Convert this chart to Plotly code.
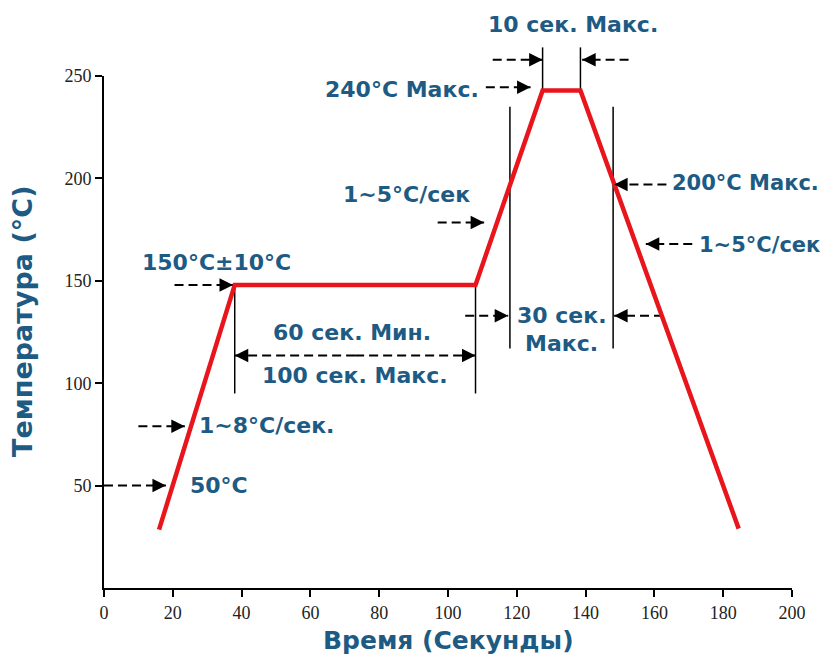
import plotly.graph_objects as go

# ---- data ----
profile_time = [16, 38, 108, 127.5, 138.5, 184.5]
profile_temp = [28.5, 148, 148, 243, 243, 29]

# vertical guide lines (x, y_bottom, y_top)
guide_x = [38, 108, 118, 148, 127.5, 138.5]
guide_y0 = [95, 95, 117, 117, 243, 243]
guide_y1 = [148, 148, 235, 235, 264, 264]

# dashed arrows (tail x, tip x, y)
arrow_tail = [0, 10, 20.5, 73, 73, 97, 105, 162.5, 163.5, 171, 111, 113, 152.5]
arrow_tip = [18, 23.5, 37.5, 38, 108, 110.5, 117.5, 148.3, 148.3, 157.5, 124, 127.5, 139]
arrow_y = [50, 79, 148, 113.5, 113.5, 178.5, 133, 133, 197, 168, 244.5, 258, 258]

# text labels
label_text = ["10 сек. Макс.", "240°C Макс.", "1~5°C/сек", "150°C±10°C",
              "60 сек. Мин.", "100 сек. Макс.", "1~8°C/сек.", "50°C",
              "30 сек.", "Макс.", "200°C Макс.", "1~5°C/сек"]
label_x = [136.3, 109.5, 87.8, 32.8, 72.1, 73.0, 27.0, 24.4, 133.1, 133.1, 164.5, 172.4]
label_y = [275, 243.5, 192.3, 159, 125, 104, 79.2, 50, 133.3, 119.3, 197.6, 167.6]
label_anchor = ["center", "right", "center", "center", "center", "center", "left",
                "left", "center", "center", "left", "left"]
label_size = [22, 22, 22, 22, 22, 22, 22, 22, 22, 22, 21, 21]

x_ticks = [0, 20, 40, 60, 80, 100, 120, 140, 160, 180, 200]
y_ticks = [50, 100, 150, 200, 250]
x_title = "Время (Секунды)"
y_title = "Температура (°C)"

X_MAX, Y_MAX = 200, 250

TEXT_COLOR = "#1d5b84"
RED = "#e8161c"

# layout geometry (page body has an 8px margin)
M_L, M_T, M_B = 96, 5, 79
W, H = 828, 659
PLOT_H = 521                      # height of the visible axis frame
FULL_H = H - M_T - M_B            # full drawing height
DOMAIN_TOP = PLOT_H / FULL_H
Y3_MAX = Y_MAX / DOMAIN_TOP       # hidden axis that reaches above the frame
HEAD_PX = 14                      # arrowhead length in px

fig = go.Figure()

# guide lines
gx, gy = [], []
for x, a, b in zip(guide_x, guide_y0, guide_y1):
    gx += [x, x, None]
    gy += [a, b, None]
fig.add_trace(go.Scatter(x=gx, y=gy, yaxis="y3", mode="lines",
                         line=dict(color="black", width=1.5),
                         hoverinfo="skip", showlegend=False))

# dashed arrow shafts
ax_, ay_ = [], []
for t, p, y in zip(arrow_tail, arrow_tip, arrow_y):
    ax_ += [t, p, None]
    ay_ += [y, y, None]
fig.add_trace(go.Scatter(
    x=ax_, y=ay_, yaxis="y3", mode="lines",
    line=dict(color="black", width=2, dash="9px,5px"),
    hoverinfo="skip", showlegend=False))

# profile
fig.add_trace(go.Scatter(x=profile_time, y=profile_temp, yaxis="y3", mode="lines",
                         line=dict(color=RED, width=4.5), showlegend=False))

# invisible helper traces so that all axes are drawn
fig.add_trace(go.Scatter(x=[0], y=[0], mode="markers", marker=dict(opacity=0),
                         showlegend=False, hoverinfo="skip"))
fig.add_trace(go.Scatter(x=[0], y=[0], xaxis="x2", yaxis="y2", mode="markers",
                         marker=dict(opacity=0), showlegend=False, hoverinfo="skip"))

# arrowheads (filled triangles)
for t, p, y in zip(arrow_tail, arrow_tip, arrow_y):
    direction = 1 if p > t else -1
    fig.add_annotation(x=p, y=y, xref="x", yref="y3", text="", showarrow=True,
                       ax=-direction * HEAD_PX, ay=0, arrowhead=2, arrowsize=1.35,
                       arrowwidth=2, arrowcolor="black", standoff=0)

for t, x, y, a, s in zip(label_text, label_x, label_y, label_anchor, label_size):
    fig.add_annotation(x=x, y=y, xref="x", yref="y3", text=t, showarrow=False,
                       xanchor=a, yanchor="middle",
                       font=dict(family="DejaVu Sans", size=s, color=TEXT_COLOR,
                                 weight="bold"))

fig.add_annotation(x=0.5, y=0, xref="paper", yref="paper", text=x_title,
                   showarrow=False, xanchor="center", yanchor="middle", yshift=-52,
                   font=dict(family="DejaVu Sans", size=25, color=TEXT_COLOR, weight="bold"))
fig.add_annotation(x=0, y=DOMAIN_TOP / 2, xref="paper", yref="paper", text=y_title,
                   showarrow=False, xanchor="center", yanchor="middle", xshift=-82,
                   yshift=11, textangle=-90,
                   font=dict(family="DejaVu Sans", size=27, color=TEXT_COLOR, weight="bold"))

tick_font = dict(family="Liberation Serif", size=18, color="#222")
fig.update_layout(
    width=W, height=H, autosize=False,
    margin=dict(l=M_L, r=W - M_L - 688, t=M_T, b=M_B),
    plot_bgcolor="white", paper_bgcolor="white",
    xaxis=dict(range=[0, X_MAX], tickvals=x_ticks, ticktext=[str(v) for v in x_ticks],
               showgrid=False, zeroline=False, showline=True, linecolor="black",
               linewidth=2, ticks="outside", ticklen=7, tickwidth=1.5, tickcolor="black",
               tickfont=tick_font, fixedrange=True, anchor="y"),
    yaxis=dict(range=[0, Y_MAX], domain=[0, DOMAIN_TOP], tickvals=y_ticks,
               ticktext=[str(v) for v in y_ticks],
               showgrid=False, zeroline=False, showline=True, linecolor="black",
               linewidth=2, ticks="outside", ticklen=7, tickwidth=1.5, tickcolor="black",
               tickfont=tick_font, fixedrange=True, anchor="x"),
    xaxis2=dict(range=[0, X_MAX], overlaying="x", tickvals=x_ticks, showticklabels=False,
                ticks="inside", ticklen=6, tickwidth=1.5, tickcolor="black",
                showgrid=False, zeroline=False, showline=False, anchor="y2"),
    yaxis2=dict(range=[0, Y_MAX], overlaying="y", tickvals=y_ticks, showticklabels=False,
                ticks="inside", ticklen=6, tickwidth=1.5, tickcolor="black",
                showgrid=False, zeroline=False, showline=False, anchor="x2"),
    yaxis3=dict(range=[0, Y3_MAX], domain=[0, 1], visible=False, anchor="x",
                fixedrange=True),
)

fig.write_html("out.html")
